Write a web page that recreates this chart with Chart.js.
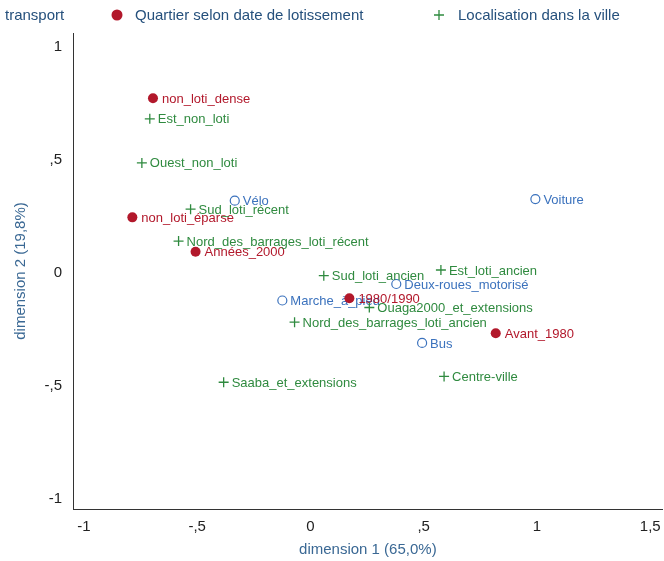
<!DOCTYPE html>
<html>
<head>
<meta charset="utf-8">
<style>
  html, body { margin: 0; padding: 0; background: #fff; overflow: hidden; }
  #wrap { width: 664px; height: 561px; position: relative; overflow: hidden; }
  #c { display: block; }
</style>
<script src="https://cdn.jsdelivr.net/npm/chart.js@4/dist/chart.umd.min.js"></script>
</head>
<body>
<div id="wrap"><canvas id="c" width="669" height="561"></canvas></div>
<script>
// ---- data ----
const transportLabels = ["Vélo", "Voiture", "Deux-roues_motorisé", "Marche_à_pied", "Bus"];
const transportX = [-0.334, 0.993, 0.379, -0.124, 0.493];
const transportY = [0.320, 0.327, -0.049, -0.122, -0.310];

const quartierLabels = ["non_loti_dense", "non_loti_éparse", "Années_2000", "1980/1990", "Avant_1980"];
const quartierX = [-0.695, -0.786, -0.507, 0.172, 0.818];
const quartierY = [0.773, 0.246, 0.094, -0.112, -0.267];

const localisationLabels = ["Est_non_loti", "Ouest_non_loti", "Sud_loti_récent", "Nord_des_barrages_loti_récent",
  "Sud_loti_ancien", "Est_loti_ancien", "Ouaga2000_et_extensions", "Nord_des_barrages_loti_ancien",
  "Centre-ville", "Saaba_et_extensions"];
const localisationX = [-0.709, -0.744, -0.529, -0.582, 0.059, 0.576, 0.260, -0.070, 0.590, -0.383];
const localisationY = [0.682, 0.487, 0.282, 0.141, -0.012, 0.013, -0.153, -0.218, -0.458, -0.484];

const xTicks = [-1, -0.5, 0, 0.5, 1, 1.5];
const yTicks = [-1, -0.5, 0, 0.5, 1];

const seriesNames = ["transport", "Quartier selon date de lotissement", "Localisation dans la ville"];

// ---- helpers ----
function pts(xs, ys) { return xs.map((x, i) => ({ x: x, y: ys[i] })); }
function fr(v) {
  if (v === 0) return "0";
  let s = String(Math.abs(v)).replace(".", ",");
  if (s.startsWith("0,")) s = s.slice(1);
  return (v < 0 ? "-" : "") + s;
}

const RED = "#b2182b";
const BLUE = "#3b72bd";
const GREEN = "#2f8a3f";
const FONT = "'Liberation Sans', Arial, Helvetica, sans-serif";

const pointLabels = {
  id: "pointLabels",
  afterDatasetDraw(chart, args) {
    const ds = chart.data.datasets[args.index];
    const meta = args.meta;
    const ctx = chart.ctx;
    ctx.save();
    ctx.font = "13px " + FONT;
    ctx.fillStyle = ds.labelColor;
    ctx.textBaseline = "middle";
    ctx.textAlign = "left";
    meta.data.forEach((el, i) => {
      ctx.fillText(ds.pointNames[i], el.x + ds.labelOffset, el.y + 1);
    });
    ctx.restore();
  }
};

const topLegend = {
  id: "topLegend",
  afterDraw(chart) {
    const ctx = chart.ctx;
    ctx.save();
    ctx.font = "15px " + FONT;
    ctx.fillStyle = "#25507c";
    ctx.textBaseline = "middle";
    ctx.textAlign = "left";
    const y = 16;
    ctx.fillText(seriesNames[0], 5, y);
    ctx.beginPath();
    ctx.fillStyle = RED;
    ctx.arc(117, 15, 5.5, 0, Math.PI * 2);
    ctx.fill();
    ctx.fillStyle = "#25507c";
    ctx.fillText(seriesNames[1], 135, y);
    ctx.strokeStyle = GREEN;
    ctx.lineWidth = 1.3;
    ctx.beginPath();
    ctx.moveTo(434, 15); ctx.lineTo(444, 15);
    ctx.moveTo(439, 10); ctx.lineTo(439, 20);
    ctx.stroke();
    ctx.fillText(seriesNames[2], 458, y);
    ctx.restore();
  }
};

new Chart(document.getElementById("c"), {
  type: "scatter",
  data: {
    datasets: [
      {
        label: seriesNames[0],
        data: pts(transportX, transportY),
        pointNames: transportLabels,
        labelColor: BLUE,
        labelOffset: 8,
        pointStyle: "circle",
        pointRadius: 4.5,
        borderWidth: 1.2,
        borderColor: BLUE,
        backgroundColor: "rgba(255,255,255,0)",
        order: 3
      },
      {
        label: seriesNames[1],
        data: pts(quartierX, quartierY),
        pointNames: quartierLabels,
        labelColor: RED,
        labelOffset: 9,
        pointStyle: "circle",
        pointRadius: 5,
        borderWidth: 0,
        borderColor: RED,
        backgroundColor: RED,
        order: 2
      },
      {
        label: seriesNames[2],
        data: pts(localisationX, localisationY),
        pointNames: localisationLabels,
        labelColor: GREEN,
        labelOffset: 8,
        pointStyle: "cross",
        pointRadius: 5,
        borderWidth: 1.3,
        borderColor: GREEN,
        backgroundColor: GREEN,
        order: 1
      }
    ]
  },
  options: {
    responsive: false,
    animation: false,
    events: [],
    layout: { padding: { top: 33, right: 0, left: 0, bottom: 0 } },
    plugins: {
      legend: { display: false },
      tooltip: { enabled: false }
    },
    scales: {
      x: {
        type: "linear",
        min: -1.048,
        max: 1.555,
        afterBuildTicks: (s) => { s.ticks = xTicks.map(v => ({ value: v })); },
        afterFit: (s) => { s.height = 52; s.paddingLeft = 0; s.paddingRight = 0; },
        grid: { display: false, drawTicks: false },
        border: { display: true, color: "#333", width: 1 },
        ticks: {
          color: "#222",
          font: { family: FONT, size: 15 },
          padding: 9,
          maxRotation: 0,
          autoSkip: false,
          callback: (v) => fr(v)
        },
        title: {
          display: true,
          text: "dimension 1 (65,0%)",
          color: "#3a6894",
          font: { family: FONT, size: 15 },
          padding: { top: 0, bottom: 2 }
        }
      },
      y: {
        type: "linear",
        min: -1.045,
        max: 1.062,
        afterBuildTicks: (s) => { s.ticks = yTicks.map(v => ({ value: v })); },
        afterFit: (s) => { s.width = 73; s.paddingTop = 0; s.paddingBottom = 0; },
        grid: { display: false, drawTicks: false },
        border: { display: true, color: "#333", width: 1 },
        ticks: {
          color: "#222",
          font: { family: FONT, size: 15 },
          padding: 11,
          autoSkip: false,
          callback: (v) => fr(v)
        },
        title: {
          display: true,
          text: "dimension 2 (19,8%)",
          color: "#3a6894",
          font: { family: FONT, size: 15 },
          padding: { top: 12, bottom: 0 }
        }
      }
    }
  },
  plugins: [pointLabels, topLegend]
});
</script>
</body>
</html>
